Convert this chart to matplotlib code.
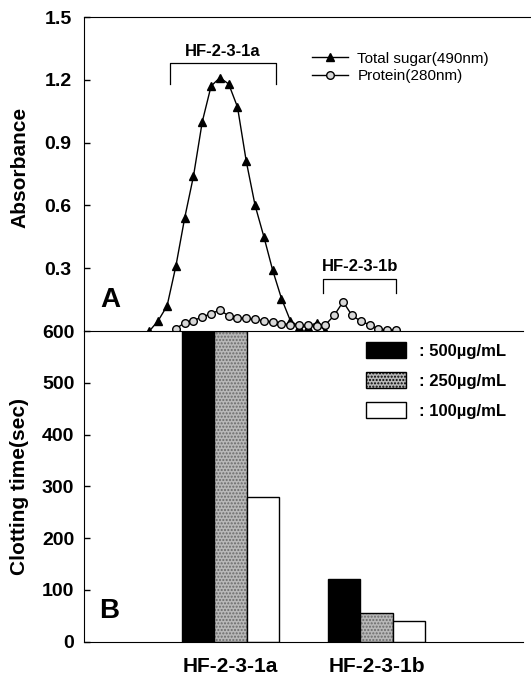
import matplotlib
matplotlib.use("Agg")
import matplotlib.pyplot as plt
from matplotlib.patches import Patch

plt.rcParams['font.family'] = ['Liberation Sans', 'DejaVu Sans']

# elution profile (fraction number vs absorbance)
sugar_frac = list(range(8, 29))
sugar_abs = [0.0, 0.05, 0.12, 0.31, 0.54, 0.74, 1.00, 1.17, 1.21, 1.18, 1.07,
             0.81, 0.60, 0.45, 0.29, 0.155, 0.05, 0.02, 0.02, 0.04, 0.0]
protein_frac = list(range(11, 37))
protein_abs = [0.01, 0.04, 0.05, 0.067, 0.083, 0.10, 0.072, 0.063, 0.06, 0.055,
               0.05, 0.043, 0.035, 0.03, 0.027, 0.027, 0.024, 0.03, 0.075, 0.14,
               0.075, 0.047, 0.03, 0.01, 0.005, 0.005]

# clotting time per fraction pool and dose
groups = ['HF-2-3-1a', 'HF-2-3-1b']
doses = [': 500\u00b5g/mL', ': 250\u00b5g/mL', ': 100\u00b5g/mL']
clot_500 = [600, 120]
clot_250 = [600, 55]
clot_100 = [280, 40]

W, H = 531, 678
fig = plt.figure(figsize=(W / 100, H / 100), dpi=100)

axA = fig.add_axes([84 / W, 1 - 331 / H, (531 - 84) / W, (331 - 17) / H])
axB = fig.add_axes([84 / W, 1 - 641.6 / H, (523 - 84) / W, (641.6 - 331) / H])

# ---- panel A ----
axA.plot(sugar_frac, sugar_abs, color='black', lw=1, marker='^', ms=6,
         mfc='black', mec='black', label='Total sugar(490nm)', clip_on=False, zorder=3)
axA.plot(protein_frac, protein_abs, color='black', lw=1, marker='o', ms=5.5,
         mfc='#d8d8d8', mec='black', mew=1, label='Protein(280nm)', clip_on=False, zorder=4)
axA.set_xlim(0.56, 51.35)
axA.set_ylim(0, 1.5)
axA.set_yticks([0.3, 0.6, 0.9, 1.2, 1.5])
axA.set_yticklabels(['0.3', '0.6', '0.9', '1.2', '1.5'])
axA.set_xticks([])
for s in ['right', 'bottom']:
    axA.spines[s].set_visible(False)
axA.tick_params(axis='y', direction='in', length=4, width=1, pad=9,
                labelsize=14)
for t in axA.get_yticklabels():
    t.set_fontweight('bold')
axA.set_ylabel('Absorbance', fontsize=15, fontweight='bold')
axA.yaxis.set_label_coords(-0.122, 0.52)

# pooled fraction brackets
axA.plot([10.3, 10.3, 22.4, 22.4], [1.18, 1.28, 1.28, 1.18], color='black', lw=0.9)
axA.text(16.3, 1.335, 'HF-2-3-1a', ha='center', va='center', fontsize=12, fontweight='bold')
axA.plot([27.7, 27.7, 36.0, 36.0], [0.18, 0.25, 0.25, 0.18], color='black', lw=0.9)
axA.text(31.9, 0.31, 'HF-2-3-1b', ha='center', va='center', fontsize=12, fontweight='bold')
axA.text(3.6, 0.15, 'A', ha='center', va='center', fontsize=20, fontweight='bold')

axA.legend(loc='upper left', bbox_to_anchor=(0.509, 0.89), frameon=False,
           fontsize=11, handlelength=2.4, handletextpad=0.6, labelspacing=0.25,
           borderpad=0, borderaxespad=0)

# ---- panel B ----
bw = 0.221
x = [0, 1]
axB.bar([v - bw for v in x], clot_500, bw, color='black', edgecolor='black', lw=1)
axB.bar(x, clot_250, bw, color='#b8b8b8', edgecolor='#6a6a6a', hatch='.....', lw=0)
axB.bar(x, clot_250, bw, color='none', edgecolor='black', lw=1)
axB.bar([v + bw for v in x], clot_100, bw, color='white', edgecolor='black', lw=1)

axB.set_xlim(-1, 2)
axB.set_ylim(0, 600)
axB.set_yticks([0, 100, 200, 300, 400, 500, 600])
axB.set_xticks(x)
axB.set_xticklabels(groups, fontsize=15, fontweight='bold')
axB.tick_params(axis='x', length=0, pad=11)
axB.tick_params(axis='y', direction='in', length=4, width=1, pad=7, labelsize=14)
for t in axB.get_yticklabels():
    t.set_fontweight('bold')
axB.spines['right'].set_visible(False)
axB.set_ylabel('Clotting time(sec)', fontsize=15, fontweight='bold', labelpad=9)
axB.text(-0.83, 60, 'B', ha='center', va='center', fontsize=20, fontweight='bold')

handles = [Patch(facecolor='black', edgecolor='black'),
           Patch(facecolor='#b8b8b8', edgecolor='black', hatch='.....'),
           Patch(facecolor='white', edgecolor='black')]
leg = axB.legend(handles, doses, loc='upper left', bbox_to_anchor=(0.642, 0.965),
                 frameon=False, fontsize=12, handlelength=2.4, handleheight=1.15,
                 handletextpad=0.8, labelspacing=0.78, borderpad=0, borderaxespad=0)
for t in leg.get_texts():
    t.set_fontweight('bold')

fig.savefig('out.png', dpi=100)
